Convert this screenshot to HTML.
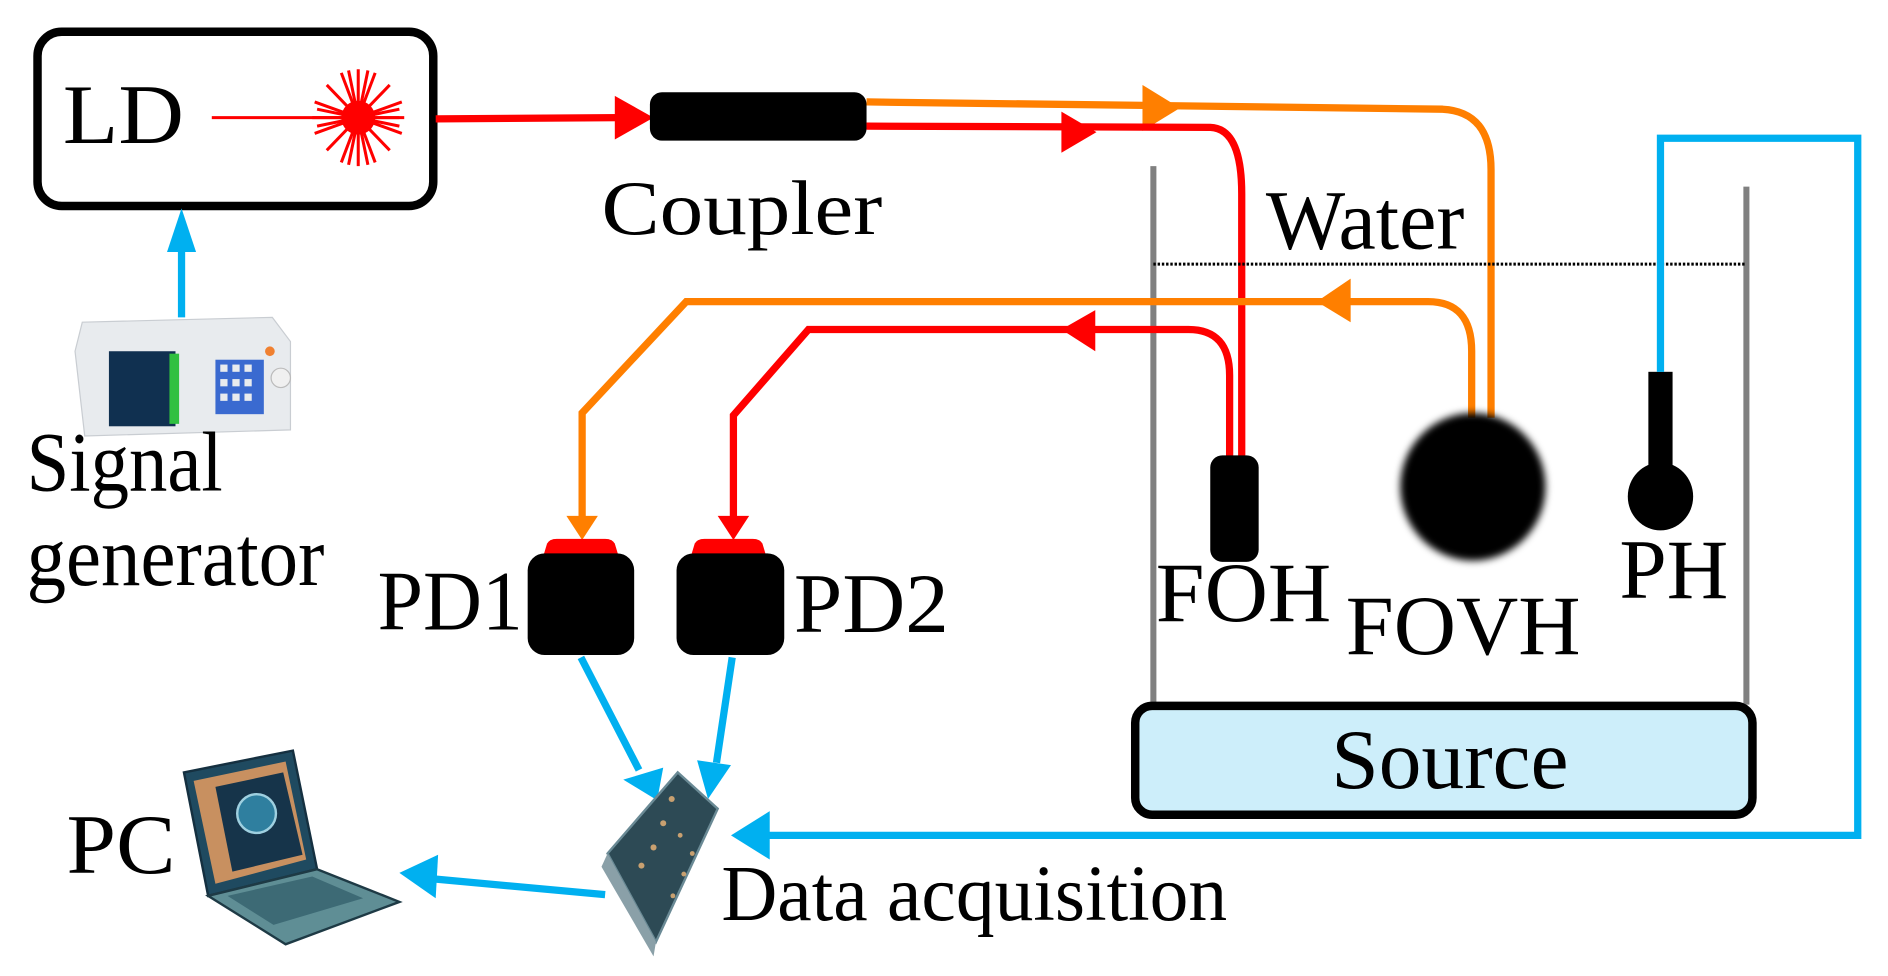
<!DOCTYPE html>
<html><head><meta charset="utf-8"><style>
html,body{margin:0;padding:0;background:#fff;}
svg{display:block;}
text{font-family:"Liberation Serif",serif;fill:#000;}
</style></head><body>
<svg width="1888" height="976" viewBox="0 0 1560 806" xmlns="http://www.w3.org/2000/svg">
<defs>
<filter id="blur"><feGaussianBlur stdDeviation="3"/></filter>
</defs>
<!-- LD box -->
<rect x="31" y="26" width="327" height="144" rx="20" fill="#fff" stroke="#000" stroke-width="7"/>
<text x="52" y="118" font-size="70" textLength="100" lengthAdjust="spacingAndGlyphs">LD</text>
<line x1="175" y1="97" x2="330" y2="97" stroke="#f00" stroke-width="2.5"/>
<g stroke="#f00" stroke-width="2.5">
<line x1="296" y1="57" x2="296" y2="137"/><line x1="258" y1="97" x2="334" y2="97"/>
<line x1="270" y1="70" x2="322" y2="124"/><line x1="322" y1="70" x2="270" y2="124"/>
<line x1="282" y1="60" x2="310" y2="134"/><line x1="310" y1="60" x2="282" y2="134"/>
<line x1="260" y1="84" x2="332" y2="110"/><line x1="332" y1="84" x2="260" y2="110"/>
<line x1="288" y1="58" x2="304" y2="136"/><line x1="304" y1="58" x2="288" y2="136"/>
<line x1="262" y1="90" x2="330" y2="104"/><line x1="262" y1="104" x2="330" y2="90"/>
</g>
<circle cx="296" cy="97" r="14" fill="#f00"/>
<!-- LD -> coupler -->
<line x1="360" y1="98" x2="512" y2="97" stroke="#f00" stroke-width="6"/>
<polygon points="508,79 540,97 508,115" fill="#f00"/>
<rect x="537" y="76" width="179" height="40" rx="10" fill="#000"/>
<text x="497" y="193" font-size="64" textLength="232" lengthAdjust="spacingAndGlyphs">Coupler</text>
<!-- orange out -->
<path d="M716,84 L1192,90 Q1232,92 1232,140 L1232,345" fill="none" stroke="#ff7f00" stroke-width="6"/>
<polygon points="944,70 944,108 975,89" fill="#ff7f00"/>
<!-- red out -->
<path d="M716,104 L1000,105 Q1026,106 1026,160 L1026,380" fill="none" stroke="#f00" stroke-width="6"/>
<polygon points="877,92 877,126 906,109" fill="#f00"/>
<!-- tank -->
<line x1="953" y1="137" x2="953" y2="582" stroke="#808080" stroke-width="5"/>
<line x1="1443" y1="154" x2="1443" y2="582" stroke="#808080" stroke-width="5"/>
<line x1="953" y1="218" x2="1443" y2="218" stroke="#000" stroke-width="2.5" stroke-dasharray="2,1.5"/>
<text x="1046" y="205" font-size="70" textLength="164" lengthAdjust="spacingAndGlyphs">Water</text>
<!-- orange return -->
<path d="M1216,345 L1216,290 Q1216,249 1180,249 L567,249 L481,341 L481,430" fill="none" stroke="#ff7f00" stroke-width="6"/>
<polygon points="1088,249 1116,230 1116,266" fill="#ff7f00"/>
<polygon points="468,426 494,426 481,446" fill="#ff7f00"/>
<!-- red return -->
<path d="M1016,380 L1016,310 Q1016,272 982,272 L668,272 L606,343 L606,430" fill="none" stroke="#f00" stroke-width="6"/>
<polygon points="877,272 905,256 905,290" fill="#f00"/>
<polygon points="593,426 619,426 606,446" fill="#f00"/>
<!-- PD -->
<path d="M449,459 L452,449 Q454,445 460,445 L500,445 Q506,445 508,449 L511,459 Z" fill="#f00"/>
<rect x="436" y="457" width="88" height="84" rx="14" fill="#000"/>
<path d="M571,459 L574,449 Q576,445 582,445 L622,445 Q628,445 630,449 L633,459 Z" fill="#f00"/>
<rect x="559" y="457" width="89" height="84" rx="14" fill="#000"/>
<text x="312" y="520" font-size="70" textLength="120" lengthAdjust="spacingAndGlyphs">PD1</text>
<text x="656" y="522" font-size="70" textLength="128" lengthAdjust="spacingAndGlyphs">PD2</text>
<!-- FOH FOVH PH -->
<rect x="1000" y="376" width="40" height="88" rx="10" fill="#000"/>
<ellipse cx="1217" cy="402" rx="60" ry="61" fill="#000" filter="url(#blur)"/>
<rect x="1362" y="307" width="20" height="90" fill="#000"/>
<ellipse cx="1372" cy="410" rx="27" ry="28" fill="#000"/>
<text x="955" y="513" font-size="70" textLength="145" lengthAdjust="spacingAndGlyphs">FOH</text>
<text x="1112" y="540" font-size="70" textLength="194" lengthAdjust="spacingAndGlyphs">FOVH</text>
<text x="1338" y="494" font-size="70" textLength="90" lengthAdjust="spacingAndGlyphs">PH</text>
<!-- blue loop -->
<path d="M1372,307 L1372,114 L1535,114 L1535,690 L630,690" fill="none" stroke="#00b0f0" stroke-width="6"/>
<polygon points="604,690 636,670 636,710" fill="#00b0f0"/>
<!-- Source -->
<rect x="938" y="583" width="510" height="90" rx="14" fill="#cdeefa" stroke="#000" stroke-width="7"/>
<text x="1100" y="651" font-size="70" textLength="196" lengthAdjust="spacingAndGlyphs">Source</text>
<!-- PD -> DAQ -->
<line x1="480" y1="543" x2="528" y2="636" stroke="#00b0f0" stroke-width="6"/>
<polygon points="515,644 548,634 543,661" fill="#00b0f0"/>
<line x1="605" y1="543" x2="592" y2="630" stroke="#00b0f0" stroke-width="6"/>
<polygon points="576,628 604,632 585,660" fill="#00b0f0"/>
<!-- DAQ board -->
<polygon points="560,638 593,668 542,778 502,705" fill="#2d4a55" stroke="#6a8a95" stroke-width="2"/>
<polygon points="502,705 542,778 540,790 497,716" fill="#8aa0a8"/>
<g fill="#c8a070"><circle cx="555" cy="660" r="2.5"/><circle cx="548" cy="680" r="2.5"/><circle cx="540" cy="700" r="2.5"/><circle cx="530" cy="715" r="2.5"/><circle cx="562" cy="690" r="2"/><circle cx="572" cy="705" r="2"/><circle cx="565" cy="722" r="2"/><circle cx="556" cy="740" r="2"/></g>
<!-- DAQ -> PC -->
<line x1="500" y1="739" x2="358" y2="726" stroke="#00b0f0" stroke-width="6"/>
<polygon points="330,721 362,706 360,742" fill="#00b0f0"/>
<text x="596" y="760" font-size="66" textLength="418" lengthAdjust="spacingAndGlyphs">Data acquisition</text>
<!-- PC laptop -->
<polygon points="152,638 242,620 262,718 172,740" fill="#1f4a60" stroke="#153040" stroke-width="2"/>
<polygon points="160,645 236,629 253,710 178,730" fill="#c89060"/>
<polygon points="178,650 234,638 250,706 192,720" fill="#16344a"/>
<circle cx="212" cy="672" r="16" fill="#2f7f9f" stroke="#9fd0e0" stroke-width="2"/>
<polygon points="172,740 262,718 330,745 236,780" fill="#5f8e95" stroke="#1e3a45" stroke-width="2"/>
<polygon points="188,740 258,724 300,742 226,764" fill="#3d6a75"/>
<text x="55" y="721" font-size="70" textLength="90" lengthAdjust="spacingAndGlyphs">PC</text>
<!-- signal generator -->
<line x1="150" y1="262" x2="150" y2="205" stroke="#00b0f0" stroke-width="6"/>
<polygon points="138,208 162,208 150,172" fill="#00b0f0"/>
<polygon points="68,266 225,262 240,282 240,355 70,360 62,290" fill="#e8ebee" stroke="#c9cdd2" stroke-width="1"/>
<rect x="90" y="290" width="55" height="62" fill="#103050"/>
<rect x="140" y="292" width="8" height="58" fill="#30c040"/>
<rect x="178" y="297" width="40" height="45" fill="#3a6ad0"/>
<g fill="#e8ebee"><rect x="182" y="301" width="6" height="6"/><rect x="192" y="301" width="6" height="6"/><rect x="202" y="301" width="6" height="6"/><rect x="182" y="313" width="6" height="6"/><rect x="192" y="313" width="6" height="6"/><rect x="202" y="313" width="6" height="6"/><rect x="182" y="325" width="6" height="6"/><rect x="192" y="325" width="6" height="6"/><rect x="202" y="325" width="6" height="6"/></g>
<circle cx="232" cy="312" r="8" fill="#f0f0f0" stroke="#bbb"/>
<circle cx="223" cy="290" r="4" fill="#f08030"/>
<text x="22" y="405" font-size="70" textLength="162" lengthAdjust="spacingAndGlyphs">Signal</text>
<text x="22" y="483" font-size="70" textLength="246" lengthAdjust="spacingAndGlyphs">generator</text>
</svg>
</body></html>
